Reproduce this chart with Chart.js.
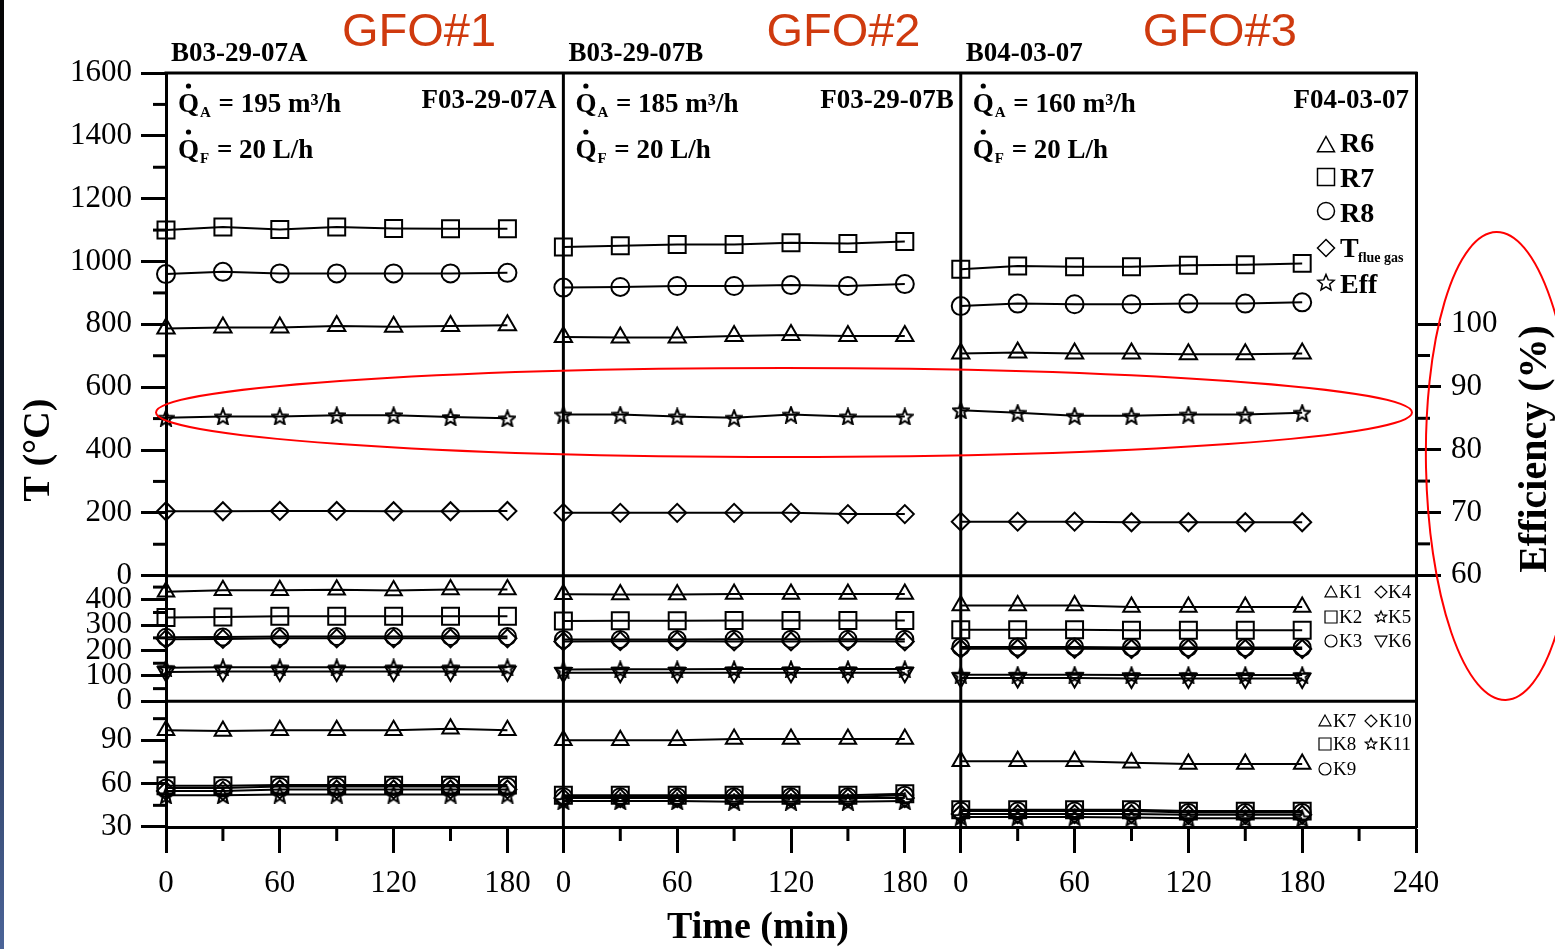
<!DOCTYPE html>
<html>
<head>
<meta charset="utf-8">
<script src="https://cdn.jsdelivr.net/npm/chart.js@4.4.1/dist/chart.umd.min.js"></script>
<style>
  html, body { margin: 0; padding: 0; background: #fff; }
</style>
</head>
<body>
<canvas id="grafico" width="1555" height="949"></canvas>
<script>
// ---- datos ----
const times = [0, 30, 60, 90, 120, 150, 180];
const runStart = [0, 209.5, 419];   // inicio de cada corrida sobre el eje de tiempo
const xEnd = 659;
const runNames = ['B03-29-07A', 'B03-29-07B', 'B04-03-07'];
const fuelNames = ['F03-29-07A', 'F03-29-07B', 'F04-03-07'];
const gfoLabels = ['GFO#1', 'GFO#2', 'GFO#3'];
const airFlow = ['195', '185', '160'];
const fuelFlow = ['20', '20', '20'];

const xTickLabels = ['0', '60', '120', '180', '0', '60', '120', '180', '0', '60', '120', '180', '240'];
const tTicks = [0, 200, 400, 600, 800, 1000, 1200, 1400, 1600];
const kTicks = [0, 100, 200, 300, 400];
const k2Ticks = [30, 60, 90];
const effTicks = [60, 70, 80, 90, 100];

// panel superior (T, °C) y eficiencia (%)
const R6 = [[787, 790, 790, 795, 792, 795, 797], [760, 758, 758, 763, 766, 763, 763], [707, 710, 707, 707, 705, 705, 707]];
const R7 = [[1100, 1110, 1102, 1110, 1105, 1104, 1104], [1046, 1050, 1054, 1054, 1060, 1057, 1064], [975, 986, 983, 983, 988, 990, 994]];
const R8 = [[960, 967, 962, 962, 962, 962, 964], [917, 919, 922, 922, 925, 922, 928], [858, 866, 864, 864, 866, 866, 870]];
const Tflue = [[205, 205, 206, 206, 205, 205, 206], [200, 200, 200, 200, 200, 196, 196], [172, 172, 172, 170, 170, 170, 170]];
const Eff = [[85.1, 85.3, 85.3, 85.5, 85.5, 85.2, 85.0], [85.6, 85.6, 85.3, 85.1, 85.6, 85.3, 85.3], [86.3, 85.9, 85.4, 85.4, 85.6, 85.6, 85.9]];

// panel medio
const K1 = [[432, 438, 438, 440, 437, 441, 441], [422, 421, 421, 423, 423, 423, 423], [377, 377, 377, 372, 372, 372, 372]];
const K2 = [[330, 332, 335, 335, 335, 335, 335], [316, 317, 317, 318, 318, 318, 318], [282, 282, 282, 280, 280, 280, 280]];
const K3 = [[252, 253, 255, 255, 255, 255, 255], [244, 244, 244, 245, 245, 245, 245], [214, 214, 214, 212, 212, 212, 212]];
const K4 = [[245, 246, 248, 248, 248, 248, 248], [236, 237, 237, 236, 236, 237, 236], [207, 207, 207, 206, 206, 206, 206]];
const K5 = [[132, 134, 134, 134, 134, 134, 134], [125, 126, 126, 127, 127, 127, 127], [105, 105, 105, 104, 104, 104, 104]];
const K6 = [[116, 118, 118, 118, 118, 118, 118], [113, 113, 113, 113, 113, 113, 113], [92, 92, 92, 90, 90, 90, 90]];

// panel inferior
const K7 = [[97, 96.5, 97, 97, 97, 98, 97], [90, 90, 90, 91, 91, 91, 91], [75.5, 75.5, 75.5, 74.5, 73.6, 73.6, 73.6]];
const K8 = [[58.5, 58.5, 59, 59, 59, 59, 59], [52, 52, 52, 52, 52, 52, 53], [42, 42, 42, 42, 41, 41, 41]];
const K9 = [[57, 57, 58, 58, 58, 58, 58], [51, 51, 51, 51, 51, 51, 52], [41, 41, 41, 41, 40, 40, 40]];
const K10 = [[55, 55, 56, 56, 56, 56, 56], [50, 50, 50, 50, 50, 50, 50], [39, 39, 39, 39, 38.5, 38.5, 38.5]];
const K11 = [[52, 52, 52.5, 52.5, 52.5, 52.5, 52.5], [48, 48, 48, 47.5, 47.5, 47.5, 48], [37, 37, 37, 36.5, 36, 36, 36]];

const SERIF = '"Liberation Serif", "Times New Roman", serif';

// estrella de 5 puntas (Chart.js no la trae)
function starCanvas(size) {
  const c = document.createElement('canvas');
  c.width = c.height = size;
  const g = c.getContext('2d');
  g.beginPath();
  for (let i = 0; i < 10; i++) {
    const r = i % 2 ? size * 0.2 : size * 0.46;
    const a = -Math.PI / 2 + i * Math.PI / 5;
    const px = size / 2 + r * Math.cos(a), py = size / 2 + 1 + r * Math.sin(a);
    if (i === 0) g.moveTo(px, py); else g.lineTo(px, py);
  }
  g.closePath();
  g.lineWidth = 2;
  g.strokeStyle = '#000';
  g.stroke();
  return c;
}
const star = starCanvas(18);

function toPoints(runs) {
  const pts = [];
  runs.forEach((vals, r) => {
    if (r > 0) pts.push({ x: runStart[r] - 10, y: null });
    vals.forEach((v, i) => pts.push({ x: runStart[r] + times[i], y: v }));
  });
  return pts;
}

function serie(label, runs, axis, style, radius, rotation) {
  return {
    label: label,
    data: toPoints(runs),
    yAxisID: axis,
    borderColor: '#000',
    borderWidth: 2,
    pointStyle: style,
    pointRadius: radius,
    pointRotation: rotation || 0,
    pointBorderColor: '#000',
    pointBackgroundColor: 'rgba(0,0,0,0)',
    pointBorderWidth: 2,
    tension: 0,
    clip: false,
  };
}

const datasets = [
  serie('R6', R6, 'yTop', 'triangle', 10),
  serie('R7', R7, 'yTop', 'rect', 12),
  serie('R8', R8, 'yTop', 'circle', 9),
  serie('Tflue', Tflue, 'yTop', 'rectRot', 9),
  serie('Eff', Eff, 'eff', star, 9),
  serie('K1', K1, 'yMid', 'triangle', 9.5),
  serie('K2', K2, 'yMid', 'rect', 12),
  serie('K3', K3, 'yMid', 'circle', 8.5),
  serie('K4', K4, 'yMid', 'rectRot', 9),
  serie('K5', K5, 'yMid', star, 9),
  serie('K6', K6, 'yMid', 'triangle', 9.5, 180),
  serie('K7', K7, 'yBot', 'triangle', 9.5),
  serie('K8', K8, 'yBot', 'rect', 12),
  serie('K9', K9, 'yBot', 'circle', 8.5),
  serie('K10', K10, 'yBot', 'rectRot', 9),
  serie('K11', K11, 'yBot', star, 9),
];

// ticks del eje x
const xTicks = [];
runStart.forEach(s => [0, 60, 120, 180].forEach(t => xTicks.push(s + t)));
xTicks.push(xEnd);
const xMinor = [];
runStart.forEach((s, r) => {
  [30, 90, 150].forEach(t => xMinor.push(s + t));
  if (r === runStart.length - 1) xMinor.push(s + 210);
});

const tickFont = { family: SERIF, size: 31 };

function yAxis(min, max, ticks, weight) {
  return {
    type: 'linear',
    position: 'left',
    stack: 'temp',
    stackWeight: weight,
    min: min,
    max: max,
    afterBuildTicks: s => { s.ticks = ticks.map(v => ({ value: v })); },
    afterFit: s => { s.width = 166; },
    ticks: { autoSkip: false, color: '#000', font: tickFont, padding: 9, callback: v => String(v) },
    grid: { drawOnChartArea: false, tickLength: 25, tickWidth: 3, tickColor: '#000' },
    border: { display: true, width: 3, color: '#000' },
  };
}

function line(ctx, x1, y1, x2, y2, w) {
  ctx.lineWidth = w;
  ctx.beginPath();
  ctx.moveTo(x1, y1);
  ctx.lineTo(x2, y2);
  ctx.stroke();
}

function sym(ctx, type, cx, cy, s, lw) {
  ctx.save();
  ctx.lineWidth = lw;
  ctx.strokeStyle = '#000';
  ctx.beginPath();
  if (type === 'tri') {
    ctx.moveTo(cx, cy - s); ctx.lineTo(cx + s, cy + s * 0.8); ctx.lineTo(cx - s, cy + s * 0.8); ctx.closePath();
  } else if (type === 'dtri') {
    ctx.moveTo(cx, cy + s); ctx.lineTo(cx + s, cy - s * 0.8); ctx.lineTo(cx - s, cy - s * 0.8); ctx.closePath();
  } else if (type === 'sq') {
    ctx.rect(cx - s, cy - s, 2 * s, 2 * s);
  } else if (type === 'circ') {
    ctx.arc(cx, cy, s, 0, Math.PI * 2);
  } else if (type === 'dia') {
    ctx.moveTo(cx, cy - s); ctx.lineTo(cx + s, cy); ctx.lineTo(cx, cy + s); ctx.lineTo(cx - s, cy); ctx.closePath();
  } else if (type === 'star') {
    for (let i = 0; i < 10; i++) {
      const r = i % 2 ? s * 0.45 : s;
      const a = -Math.PI / 2 + i * Math.PI / 5;
      if (i === 0) ctx.moveTo(cx + r * Math.cos(a), cy + r * Math.sin(a));
      else ctx.lineTo(cx + r * Math.cos(a), cy + r * Math.sin(a));
    }
    ctx.closePath();
  }
  ctx.stroke();
  ctx.restore();
}

function flowText(ctx, x, y, sub, rest) {
  ctx.font = 'bold 27px ' + SERIF;
  ctx.fillText('Q', x, y);
  const qw = ctx.measureText('Q').width;
  ctx.beginPath();
  ctx.arc(x + qw / 2, y - 26, 2.6, 0, Math.PI * 2);
  ctx.fill();
  ctx.font = 'bold 15px ' + SERIF;
  ctx.fillText(sub, x + qw + 1, y + 5);
  const sw = ctx.measureText(sub).width;
  ctx.font = 'bold 27px ' + SERIF;
  ctx.fillText(rest, x + qw + sw + 2, y);
}

const decoracion = {
  id: 'decoracion',
  beforeDraw(chart) {
    const ctx = chart.ctx;
    ctx.save();
    ctx.fillStyle = '#fff';
    ctx.fillRect(0, 0, chart.width, chart.height);
    const g = ctx.createLinearGradient(0, 0, 0, chart.height);
    g.addColorStop(0, '#050505');
    g.addColorStop(0.45, '#101828');
    g.addColorStop(1, '#4b6498');
    ctx.fillStyle = g;
    ctx.fillRect(0, 0, 4, chart.height);
    ctx.restore();
  },
  beforeDatasetsDraw(chart) {
    const ctx = chart.ctx;
    const a = chart.chartArea;
    const sc = chart.scales;
    ctx.save();
    ctx.strokeStyle = '#000';
    ctx.lineCap = 'butt';
    // marco superior y separadores de panel
    line(ctx, a.left - 1.5, a.top, a.right + 1.5, a.top, 3);
    line(ctx, a.left, sc.yTop.bottom, a.right, sc.yTop.bottom, 3);
    line(ctx, a.left, sc.yMid.bottom, a.right, sc.yMid.bottom, 3);
    // lineas de inicio de cada corrida
    runStart.slice(1).forEach(s => {
      const px = sc.x.getPixelForValue(s);
      line(ctx, px, a.top, px, a.bottom, 3);
    });
    // ticks menores
    [[sc.yTop, [100, 300, 500, 700, 900, 1100, 1300, 1500]], [sc.yMid, [50, 150, 250, 350, 450]], [sc.yBot, [45, 75, 105]]]
      .forEach(([s, vals]) => vals.forEach(v => {
        const py = s.getPixelForValue(v);
        line(ctx, a.left - 13, py, a.left, py, 3);
      }));
    [65, 75, 85, 95].forEach(v => {
      const py = sc.eff.getPixelForValue(v);
      line(ctx, a.right, py, a.right + 14, py, 3);
    });
    xMinor.forEach(v => {
      const px = sc.x.getPixelForValue(v);
      line(ctx, px, a.bottom, px, a.bottom + 14, 3);
    });
    ctx.restore();
  },
  afterDraw(chart) {
    const ctx = chart.ctx;
    const a = chart.chartArea;
    const sc = chart.scales;
    ctx.save();
    ctx.fillStyle = '#000';
    ctx.textAlign = 'left';
    ctx.textBaseline = 'alphabetic';

    const gfoDx = [176, 203, 182];
    runStart.forEach((s, r) => {
      const px = sc.x.getPixelForValue(s);
      const nextPx = r < runStart.length - 1 ? sc.x.getPixelForValue(runStart[r + 1]) : a.right;
      ctx.fillStyle = '#000';
      ctx.textAlign = 'left';
      ctx.font = 'bold 27px ' + SERIF;
      ctx.fillText(runNames[r], px + 5, 61);
      ctx.textAlign = 'right';
      ctx.fillText(fuelNames[r], nextPx - 7, 108);
      ctx.textAlign = 'left';
      flowText(ctx, px + 12, 112, 'A', ' = ' + airFlow[r] + ' m\u00b3/h');
      flowText(ctx, px + 12, 158, 'F', ' = ' + fuelFlow[r] + ' L/h');
      ctx.fillStyle = '#cf3a0e';
      ctx.font = '47px "Liberation Sans", Arial, sans-serif';
      ctx.fillText(gfoLabels[r], px + gfoDx[r], 46);
    });

    // leyenda superior
    ctx.fillStyle = '#000';
    ctx.font = 'bold 28px ' + SERIF;
    const top = [['tri', 'R6', 145, 152], ['sq', 'R7', 177, 187], ['circ', 'R8', 211, 222], ['dia', 'T', 248, 257], ['star', 'Eff', 283, 293]];
    top.forEach(([t, txt, cy, by]) => {
      sym(ctx, t, 1326, cy, 8.5, 1.5);
      ctx.fillText(txt, 1340, by);
    });
    ctx.font = 'bold 14px ' + SERIF;
    ctx.fillText('flue gas', 1358, 262);

    // leyendas de los paneles K
    ctx.font = '19px ' + SERIF;
    const mid = [['tri', 'K1', 'dia', 'K4', 598], ['sq', 'K2', 'star', 'K5', 623], ['circ', 'K3', 'dtri', 'K6', 647]];
    mid.forEach(([t1, l1, t2, l2, by]) => {
      sym(ctx, t1, 1331, by - 6, 6, 1.2);
      ctx.fillText(l1, 1339, by);
      sym(ctx, t2, 1381, by - 6, 6, 1.2);
      ctx.fillText(l2, 1388, by);
    });
    const bot = [['tri', 'K7', 'dia', 'K10', 727], ['sq', 'K8', 'star', 'K11', 750], ['circ', 'K9', null, null, 775]];
    bot.forEach(([t1, l1, t2, l2, by]) => {
      sym(ctx, t1, 1325, by - 6, 6, 1.2);
      ctx.fillText(l1, 1333, by);
      if (t2) {
        sym(ctx, t2, 1371, by - 6, 6, 1.2);
        ctx.fillText(l2, 1379, by);
      }
    });

    // titulos de ejes
    ctx.textAlign = 'center';
    ctx.font = 'bold 38px ' + SERIF;
    ctx.fillText('Time (min)', 758, 938);
    ctx.save();
    ctx.translate(49, 450);
    ctx.rotate(-Math.PI / 2);
    ctx.fillText('T (\u00b0C)', 0, 0);
    ctx.restore();
    ctx.save();
    ctx.translate(1546, 449);
    ctx.rotate(-Math.PI / 2);
    ctx.font = 'bold 40px ' + SERIF;
    ctx.fillText('Efficiency (%)', 0, 0);
    ctx.restore();

    // elipses rojas
    ctx.strokeStyle = '#ff0000';
    ctx.lineWidth = 2;
    ctx.beginPath();
    ctx.ellipse(784, 412.5, 628, 44.5, 0, 0, Math.PI * 2);
    ctx.stroke();
    ctx.beginPath();
    ctx.ellipse(1501, 466, 75, 234, -0.02, 0, Math.PI * 2);
    ctx.stroke();
    ctx.restore();
  }
};

let grafico = new Chart(document.getElementById('grafico').getContext('2d'), {
  type: 'line',
  data: { datasets: datasets },
  options: {
    responsive: false,
    animation: false,
    layout: { padding: { top: 73, left: 0, right: 0, bottom: 0 } },
    plugins: { legend: { display: false }, tooltip: { enabled: false } },
    scales: {
      x: {
        type: 'linear',
        position: 'bottom',
        min: 0,
        max: xEnd,
        afterBuildTicks: s => { s.ticks = xTicks.map(v => ({ value: v })); },
        afterFit: s => { s.height = 122; },
        ticks: { autoSkip: false, maxRotation: 0, color: '#000', font: tickFont, padding: 12,
                 callback: (v, i) => xTickLabels[i] },
        grid: { drawOnChartArea: false, tickLength: 26, tickWidth: 3, tickColor: '#000' },
        border: { display: true, width: 3, color: '#000' },
      },
      yBot: yAxis(30, 117, k2Ticks, 1),
      yMid: yAxis(0, 495, kTicks, 1),
      yTop: yAxis(0, 1600, tTicks, 4),
      eff: {
        type: 'linear',
        position: 'right',
        min: 19.9,
        max: 140,
        afterBuildTicks: s => { s.ticks = effTicks.map(v => ({ value: v })); },
        afterFit: s => { s.width = 139; },
        ticks: { autoSkip: false, color: '#000', font: tickFont, padding: 10, callback: v => String(v) },
        grid: { drawOnChartArea: false, tickLength: 25, tickWidth: 3, tickColor: '#000' },
        border: { display: true, width: 3, color: '#000' },
      },
    },
  },
  plugins: [decoracion],
});
</script>
</body>
</html>
